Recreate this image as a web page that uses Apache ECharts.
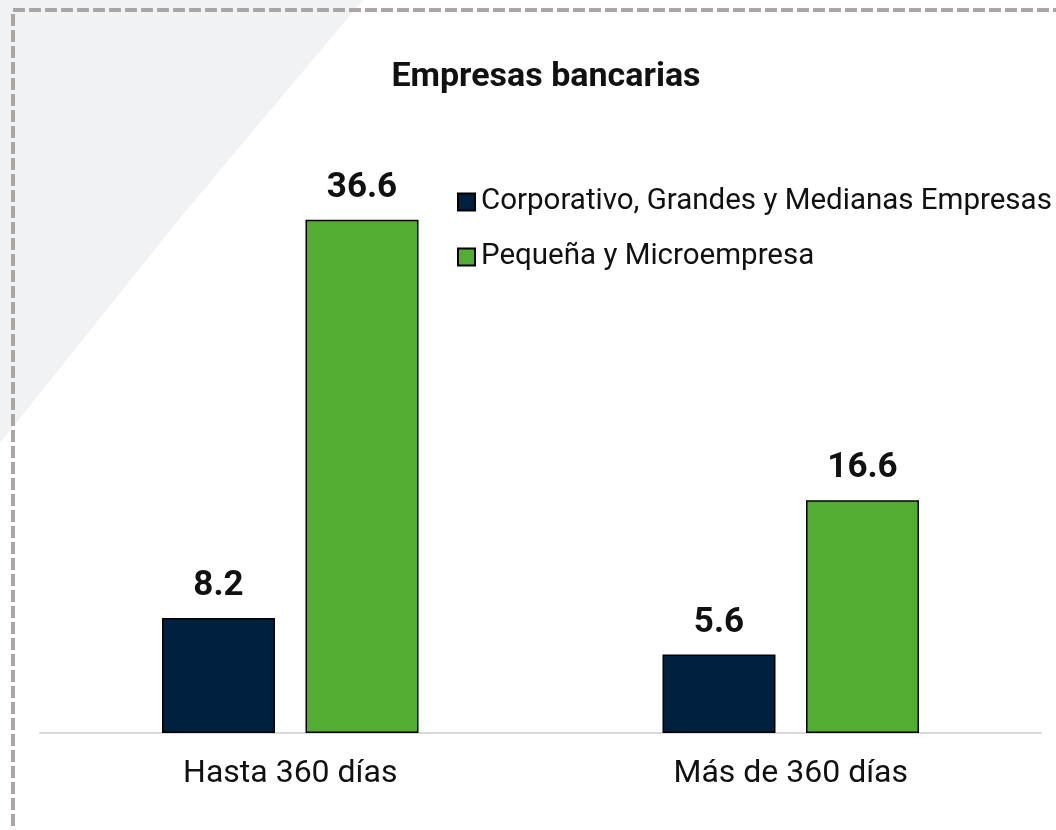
<!DOCTYPE html>
<html>
<head>
<meta charset="utf-8">
<script src="https://cdn.jsdelivr.net/npm/echarts@6/dist/echarts.min.js"></script>
<style>
  html, body { margin: 0; padding: 0; background: #fff; }
  #chart { width: 1056px; height: 830px; }
</style>
</head>
<body>
<div id="chart"></div>
<script>
const categories = ['Hasta 360 días', 'Más de 360 días']
const seriesNames = ['Corporativo, Grandes y Medianas Empresas', 'Pequeña y Microempresa']
const corporativo = [8.2, 5.6]
const pequena = [36.6, 16.6]

const chart = echarts.init(document.getElementById('chart'))

const labelStyle = {
  show: true,
  position: 'top',
  distance: 14,
  fontSize: 35,
  fontWeight: 'bold',
  color: '#111',
  formatter: p => p.value.toFixed(1)
}

chart.setOption({
  textStyle: { fontFamily: 'Roboto' },
  animation: false,
  title: {
    text: 'Empresas bancarias',
    left: 541,
    top: 55,
    textAlign: 'center',
    textStyle: { fontSize: 34, fontWeight: 'bold', color: '#111' }
  },
  legend: {
    orient: 'vertical',
    left: 457,
    top: 187,
    padding: 0,
    itemWidth: 17,
    itemHeight: 17,
    itemGap: 25,
    icon: 'rect',
    textStyle: { fontSize: 29.5, color: '#111', padding: [0, 0, 0, 1] },
    data: seriesNames
  },
  grid: { left: 40, right: 15, top: 172, bottom: 97 },
  xAxis: {
    type: 'category',
    data: categories,
    axisLine: { lineStyle: { color: '#d9d9d9', width: 2 } },
    axisTick: { show: false },
    axisLabel: { fontSize: 32, color: '#111', margin: 25 }
  },
  yAxis: {
    type: 'value',
    min: 0,
    max: 40,
    show: false,
    splitLine: { show: false }
  },
  graphic: [
    {
      type: 'polygon',
      z: -10,
      silent: true,
      shape: { points: [[0, 0], [363, 0], [185, 212], [0, 443]] },
      style: { fill: '#f1f2f4' }
    },
    {
      type: 'rect',
      z: -5,
      silent: true,
      shape: { x: 13, y: 10, width: 1200, height: 1000 },
      style: { fill: 'none', stroke: '#a9a6a5', lineWidth: 4, lineDash: [12, 4] }
    }
  ],
  series: [
    {
      name: seriesNames[0],
      type: 'bar',
      data: corporativo,
      barWidth: 113,
      barGap: '27%',
      itemStyle: { color: '#00203f', borderColor: '#000', borderWidth: 1.5 },
      label: labelStyle
    },
    {
      name: seriesNames[1],
      type: 'bar',
      data: pequena,
      barWidth: 113,
      itemStyle: { color: '#52ad32', borderColor: '#000', borderWidth: 1.5 },
      label: labelStyle
    }
  ]
})

window.addEventListener('resize', () => chart.resize())
</script>
</body>
</html>
